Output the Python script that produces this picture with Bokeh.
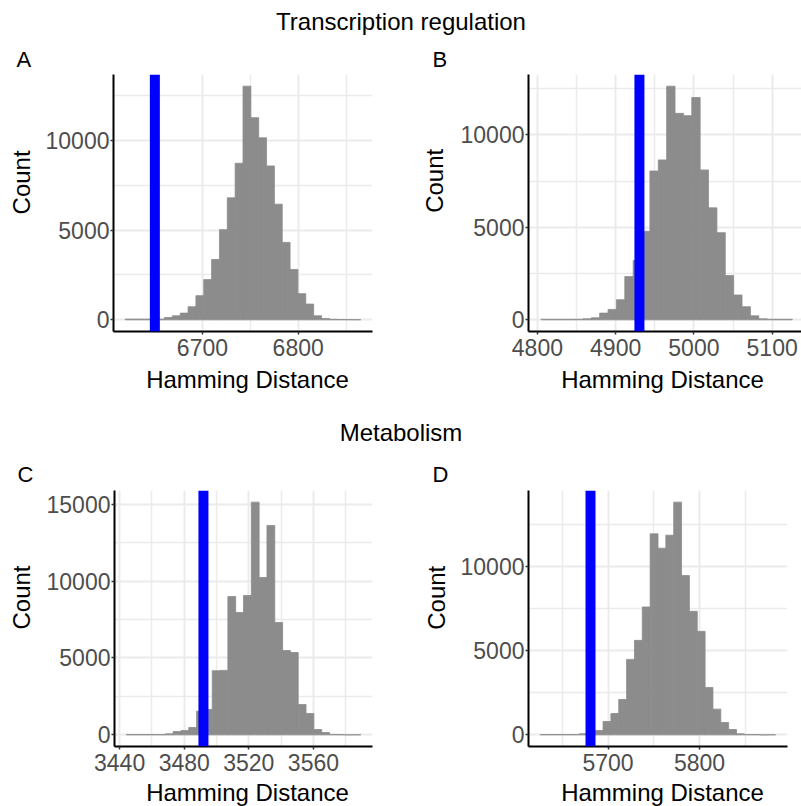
import numpy as np
from bokeh.plotting import figure
from bokeh.models import Range1d, Span, Label, FixedTicker
from bokeh.layouts import column, row
from bokeh.embed import file_html
from bokeh.resources import INLINE

FONT = "Liberation Sans"

# ---------------- data ----------------
# Panel A - Transcription regulation
a_first_edge = 6619.4
a_bin_width = 8.197
a_counts = [40, 40, 40, 40, 40, 130, 224, 374, 729, 1346, 2243, 3364, 5028, 6803, 8728,
            13027, 11270, 10149, 8579, 6448, 4317, 2804, 1458, 878, 224, 75, 30, 20, 15, 10]
a_observed = 6650.3
a_x_ticks = [6700, 6800]
a_x_minor = [6650, 6750, 6850]
a_y_ticks = [0, 5000, 10000]
a_y_minor = [2500, 7500, 12500]

# Panel B - Transcription regulation
b_first_edge = 4804.7
b_bin_width = 10.70
b_counts = [30, 30, 30, 30, 30, 54, 109, 362, 562, 1087, 2337, 3207, 4784, 8045, 8643,
            12630, 11162, 11035, 12014, 8100, 6052, 4711, 2392, 1341, 707, 217, 54, 30, 30, 30]
b_observed = 4930.4
b_x_ticks = [4800, 4900, 5000, 5100]
b_x_minor = [4850, 4950, 5050]
b_y_ticks = [0, 5000, 10000]
b_y_minor = [2500, 7500, 12500]
b_x_view_end = 5137.5

# Panel C - Metabolism
c_first_edge = 3444.1
c_bin_width = 4.84
c_counts = [20, 20, 20, 20, 20, 65, 217, 282, 477, 1539, 1647, 4170, 4190, 8993, 7953,
            9058, 15126, 10228, 13609, 7303, 5483, 5353, 1972, 1387, 347, 152, 30, 20, 0, 10]
c_observed = 3491.9
c_x_ticks = [3440, 3480, 3520, 3560]
c_x_minor = [3460, 3500, 3540, 3580]
c_y_ticks = [0, 5000, 10000, 15000]
c_y_minor = [2500, 7500, 12500]

# Panel D - Metabolism
d_first_edge = 5625.9
d_bin_width = 8.577
d_counts = [20, 20, 20, 20, 20, 60, 100, 258, 795, 1272, 2107, 4493, 5626, 7614, 11968,
            11113, 11888, 13856, 9483, 7356, 6163, 2823, 1531, 736, 318, 60, 20, 20, 0, 10]
d_observed = 5680.8
d_x_ticks = [5700, 5800]
d_x_minor = [5650, 5750, 5850]
d_y_ticks = [0, 5000, 10000]
d_y_minor = [2500, 7500, 12500]

section_titles = ["Transcription regulation", "Metabolism"]
panel_letters = ["A", "B", "C", "D"]
x_title = "Hamming Distance"
y_title = "Count"

BAR = "#8C8C8C"


def panel(counts, first_edge, bin_width, observed, xticks, xminor, yticks, yminor,
          width, height, mb_left, mb_right, mb_top, mb_bottom, x_end=None):
    counts = np.asarray(counts, dtype=float)
    left = first_edge + bin_width * np.arange(len(counts))
    right = left + bin_width
    span = right[-1] - left[0]
    x0 = left[0] - 0.05 * span
    x1 = right[-1] + 0.05 * span if x_end is None else x_end
    peak = counts.max()
    p = figure(width=width, height=height,
               x_range=Range1d(x0, x1), y_range=Range1d(-0.05 * peak, 1.05 * peak),
               output_backend="svg", toolbar_location=None,
               min_border_left=mb_left, min_border_right=mb_right,
               min_border_top=mb_top, min_border_bottom=mb_bottom)
    p.outline_line_color = None
    p.background_fill_color = "white"
    p.border_fill_color = "white"

    p.quad(left=left, right=right, bottom=0, top=counts,
           fill_color=BAR, line_color=BAR, line_width=0.8)
    p.add_layout(Span(location=observed, dimension="height",
                      line_color="#0000FF", line_width=10))

    p.xaxis.ticker = FixedTicker(ticks=xticks, minor_ticks=xminor)
    p.yaxis.ticker = FixedTicker(ticks=yticks, minor_ticks=yminor)
    for g in (p.xgrid, p.ygrid):
        g.grid_line_color = "#EBEBEB"
        g.grid_line_width = 2
        g.minor_grid_line_color = "#EBEBEB"
        g.minor_grid_line_width = 1.5

    for ax in (p.xaxis, p.yaxis):
        ax.axis_line_color = "black"
        ax.axis_line_width = 2
        ax.major_tick_line_color = "#333333"
        ax.major_tick_line_width = 1.5
        ax.major_tick_in = 0
        ax.major_tick_out = 3
        ax.minor_tick_line_color = None
        ax.major_label_text_font = FONT
        ax.major_label_text_font_size = "23px"
        ax.major_label_text_color = "#4D4D4D"
    p.xaxis.major_label_standoff = 3
    p.yaxis.major_label_standoff = 0
    return p


def strip(width, height, texts):
    """A plain canvas holding text only; texts = (text, x, y_from_top, size, angle, align)."""
    s = figure(width=width, height=height, x_range=Range1d(0, width),
               y_range=Range1d(0, height), x_axis_type=None, y_axis_type=None,
               toolbar_location=None, output_backend="svg", min_border=0)
    s.outline_line_color = None
    s.background_fill_color = "white"
    s.border_fill_color = "white"
    for text, x, top, size, angle, align in texts:
        s.add_layout(Label(x=x, y=height - top, text=text, angle=angle,
                           text_align=align, text_baseline="alphabetic",
                           text_font=FONT, text_font_size=size, text_color="black"))
    return s


ROT = np.pi / 2

strip1 = strip(801, 72, [
    (section_titles[0], 400.5, 21, "24px", 0, "center"),
    (panel_letters[0], 16, 59, "22px", 0, "left"),
    (panel_letters[1], 432, 59, "22px", 0, "left"),
])
cntA = strip(40, 293, [(y_title, 21, 123, "24px", ROT, "center")])
pA = panel(a_counts, a_first_edge, a_bin_width, a_observed, a_x_ticks, a_x_minor,
           a_y_ticks, a_y_minor, 375, 293, 73, 43, 2, 34)
cntB = strip(40, 293, [(y_title, 19, 121.2, "24px", ROT, "center")])
pB = panel(b_counts, b_first_edge, b_bin_width, b_observed, b_x_ticks, b_x_minor,
           b_y_ticks, b_y_minor, 346, 293, 73, 0, 2, 34, x_end=b_x_view_end)

strip2 = strip(801, 123, [
    (x_title, 247, 13.5, "24px", 0, "center"),
    (x_title, 662, 13.5, "24px", 0, "center"),
    (section_titles[1], 400.5, 67, "24px", 0, "center"),
    (panel_letters[2], 17, 109.2, "22px", 0, "left"),
    (panel_letters[3], 432, 109.2, "22px", 0, "left"),
])
cntC = strip(40, 290, [(y_title, 21, 121.2, "24px", ROT, "center")])
pC = panel(c_counts, c_first_edge, c_bin_width, c_observed, c_x_ticks, c_x_minor,
           c_y_ticks, c_y_minor, 375, 290, 74, 43, 2, 32)
cntD = strip(40, 290, [(y_title, 21, 121.5, "24px", ROT, "center")])
pD = panel(d_counts, d_first_edge, d_bin_width, d_observed, d_x_ticks, d_x_minor,
           d_y_ticks, d_y_minor, 346, 290, 73, 14, 2, 32)

strip3 = strip(801, 28, [
    (x_title, 247, 13.8, "24px", 0, "center"),
    (x_title, 662, 13.8, "24px", 0, "center"),
])

layout = column(strip1, row(cntA, pA, cntB, pB), strip2,
                row(cntC, pC, cntD, pD), strip3)

with open("out.html", "w") as f:
    f.write(file_html(layout, INLINE))
